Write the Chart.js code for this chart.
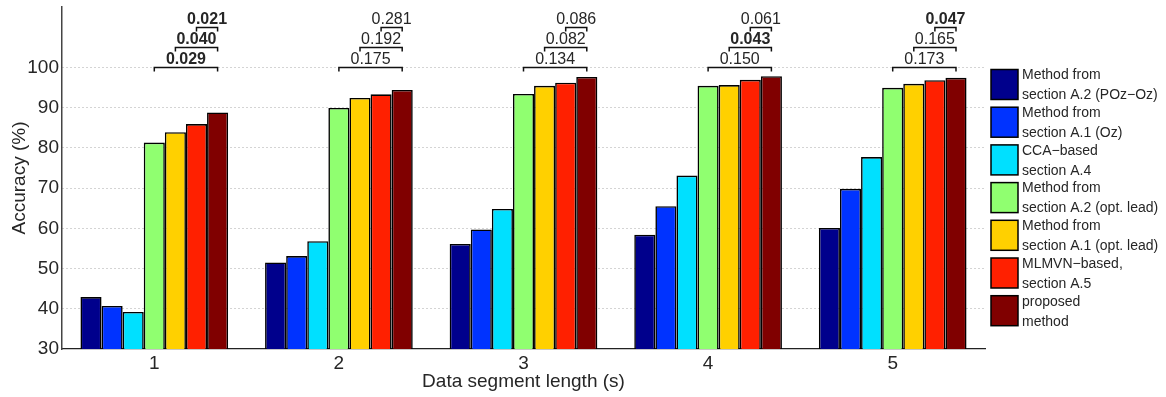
<!DOCTYPE html>
<html>
<head>
<meta charset="utf-8">
<script src="https://cdn.jsdelivr.net/npm/chart.js@4.4.0/dist/chart.umd.min.js"></script>
<style>
  html, body { margin: 0; padding: 0; background: #fff; }
  #wrap { width: 1166px; height: 397px; position: relative; }
</style>
</head>
<body>
<div id="wrap"><canvas id="chart"></canvas></div>
<script>
// Data segment lengths (s)
const segmentLengths = ["1", "2", "3", "4", "5"];

// Legend names, two lines each
const seriesNames = [
    ["Method from", "section A.2 (POz\u2212Oz)"],
    ["Method from", "section A.1 (Oz)"],
    ["CCA\u2212based", "section A.4"],
    ["Method from", "section A.2 (opt. lead)"],
    ["Method from", "section A.1 (opt. lead)"],
    ["MLMVN\u2212based,", "section A.5"],
    ["proposed", "method"]
];

// Accuracy (%) per method
const a2PozOz = [42.9, 51.5, 56.1, 58.4, 60.1];
const a1Oz = [40.7, 53.1, 59.7, 65.5, 69.8];
const ccaBased = [39.2, 56.8, 64.8, 73.1, 77.7];
const a2OptLead = [81.3, 89.9, 93.4, 95.4, 94.9];
const a1OptLead = [83.9, 92.4, 95.4, 95.6, 95.9];
const mlmvnBased = [85.9, 93.3, 96.2, 96.9, 96.8];
const proposed = [88.8, 94.4, 97.6, 97.8, 97.4];

const yTickValues = [30, 40, 50, 60, 70, 80, 90, 100];

// p-values: proposed method vs. each of the three best competitors
const pVsA2Lead = [0.029, 0.175, 0.134, 0.150, 0.173];
const pVsA1Lead = [0.040, 0.192, 0.082, 0.043, 0.165];
const pVsMlmvn = [0.021, 0.281, 0.086, 0.061, 0.047];

const colours = ["#00008c", "#0033ff", "#00e0ff", "#90ff70", "#ffd000", "#ff2000", "#800000"];
const fontFamily = '"Liberation Sans", Arial, Helvetica, sans-serif';
const textColour = "#262626";

const seriesValues = [a2PozOz, a1Oz, ccaBased, a2OptLead, a1OptLead, mlmvnBased, proposed];

const datasets = seriesValues.map((values, i) => ({
    label: seriesNames[i].join(" "),
    data: values,
    backgroundColor: colours[i],
    borderColor: "#000",
    borderWidth: 1.6,
    barPercentage: 1,
    categoryPercentage: 0.8
}));

// significance brackets drawn above the groups
const comparisons = [
    { series: 3, p: pVsA2Lead },
    { series: 4, p: pVsA1Lead },
    { series: 5, p: pVsMlmvn }
];

const bracketPlugin = {
    id: "brackets",
    afterDatasetsDraw(chart) {
        const ctx = chart.ctx;
        const yScale = chart.scales.y;
        const last = chart.getDatasetMeta(6);
        ctx.save();
        ctx.strokeStyle = "#111";
        ctx.lineWidth = 1.5;
        ctx.fillStyle = textColour;
        ctx.textAlign = "center";
        ctx.textBaseline = "alphabetic";
        comparisons.forEach((c, k) => {
            const meta = chart.getDatasetMeta(c.series);
            const yy = Math.round(yScale.getPixelForValue(100 + 5 * k)) + 0.5;
            c.p.forEach((p, i) => {
                const x1 = meta.data[i].x;
                const x2 = last.data[i].x;
                ctx.beginPath();
                ctx.moveTo(x1, yy + 4);
                ctx.lineTo(x1, yy);
                ctx.lineTo(x2, yy);
                ctx.lineTo(x2, yy + 4);
                ctx.stroke();
                ctx.font = (p < 0.05 ? "bold " : "") + "16px " + fontFamily;
                ctx.fillText(p.toFixed(3), (x1 + x2) / 2, yy - 4);
            });
        });
        ctx.restore();
    }
};

const legendPlugin = {
    id: "sideLegend",
    afterDraw(chart) {
        const ctx = chart.ctx;
        const left = chart.chartArea.right + 6;
        const top = 69.5;
        const pitch = 37.7;
        ctx.save();
        ctx.font = "14px " + fontFamily;
        ctx.textBaseline = "middle";
        ctx.textAlign = "left";
        chart.data.datasets.forEach((ds, i) => {
            const y = top + i * pitch;
            ctx.fillStyle = ds.backgroundColor;
            ctx.fillRect(left, y, 27, 30);
            ctx.strokeStyle = "#000";
            ctx.lineWidth = 1.5;
            ctx.strokeRect(left, y, 27, 30);
            ctx.fillStyle = textColour;
            seriesNames[i].forEach((line, j) => {
                ctx.fillText(line, left + 31, y + 6 + j * 20);
            });
        });
        ctx.restore();
    }
};

new Chart(document.getElementById("chart"), {
    type: "bar",
    data: {
        labels: segmentLengths,
        datasets: datasets
    },
    options: {
        responsive: true,
        maintainAspectRatio: false,
        animation: false,
        layout: { padding: { top: 7, right: 181, left: 0, bottom: 0 } },
        plugins: {
            legend: { display: false },
            tooltip: { enabled: false }
        },
        scales: {
            x: {
                grid: { display: false, drawTicks: false },
                border: { display: true, color: "#222", width: 1.3 },
                ticks: { color: textColour, font: { family: fontFamily, size: 19 }, padding: 3 },
                title: {
                    display: true,
                    text: "Data segment length (s)",
                    color: textColour,
                    font: { family: fontFamily, size: 19 },
                    padding: { top: 0, bottom: 4 }
                },
                afterFit(scale) {
                    scale.height = 48;
                    scale.paddingLeft = 0;
                    scale.paddingRight = 0;
                }
            },
            y: {
                min: 30,
                max: 115,
                afterBuildTicks(scale) {
                    scale.ticks = yTickValues.map(v => ({ value: v }));
                },
                grid: {
                    drawTicks: false,
                    color: ctx => ctx.tick && ctx.tick.value === 30 ? "rgba(0,0,0,0)" : "#a8a8a8",
                    lineWidth: 1
                },
                border: { display: true, color: "#444", width: 1.5, dash: [1, 3] },
                ticks: { color: textColour, font: { family: fontFamily, size: 19 }, padding: 3 },
                title: {
                    display: true,
                    text: "Accuracy (%)",
                    color: textColour,
                    font: { family: fontFamily, size: 19 },
                    padding: { top: 8, bottom: 0 }
                },
                afterFit(scale) {
                    scale.width = 62;
                    scale.paddingTop = 0;
                    scale.paddingBottom = 0;
                }
            }
        }
    },
    plugins: [bracketPlugin, legendPlugin]
});
</script>
</body>
</html>
